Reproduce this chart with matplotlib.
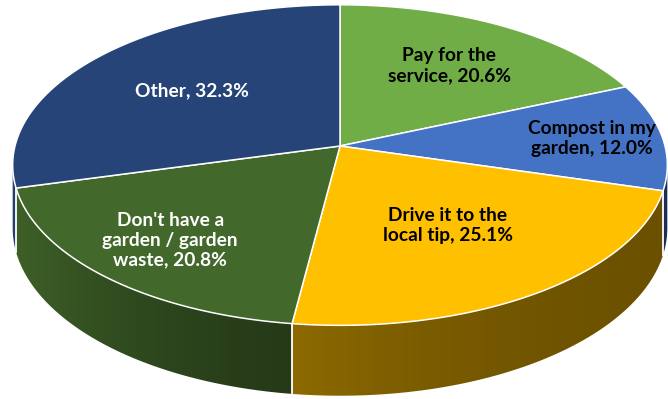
import numpy as np
import matplotlib.pyplot as plt
from matplotlib.patches import Polygon
from matplotlib.colors import to_rgb

# survey answers, clockwise from 12 o'clock
categories = ["Pay for the\nservice", "Compost in my\ngarden", "Drive it to the\nlocal tip",
              "Don't have a\ngarden / garden\nwaste", "Other"]
values = [20.6, 12.0, 25.1, 20.8, 32.3]

colors = ["#70AD47", "#4472C4", "#FFC000", "#43682B", "#264478"]
text_colors = ["black", "black", "black", "white", "white"]
label_r = [0.65, 0.78, 0.57, 0.74, 0.6]

W, H = 668, 399
CX, CY = 340, 146        # where the slices meet
RX, RY = 325, 158        # radius of the top face on screen
P = 0.119                # perspective: far side shrinks, near side grows
THICK = 62               # pie height


def proj(theta, r=1.0, drop=0.0):
    t = np.radians(theta)
    u = r * np.cos(t)
    v = r * np.sin(t)
    s = 1.0 / (1.0 + P * v)
    return CX + RX * u * s, CY - RY * v * s + drop * s


def shade(x):
    # rim lighting: bright on the left, dark on the right
    t = (x - 12) / (668 - 12)
    return 0.38 + 0.55 * np.exp(-2.7 * t)


fig = plt.figure(figsize=(W / 100, H / 100), dpi=100)
ax = fig.add_axes([0, 0, 1, 1])
ax.set_xlim(0, W)
ax.set_ylim(H, 0)
ax.axis("off")

vals = np.array(values)
spans = vals / vals.sum() * 360
ends = 90 - np.cumsum(spans)
starts = ends + spans

# visible part of the rim lies between the two silhouette points
vis_lo = -180 + np.degrees(np.arcsin(P))
vis_hi = -np.degrees(np.arcsin(P))

xs = np.arange(W)
for a0, a1, c in zip(starts, ends, colors):
    lo, hi = max(a1, vis_lo), min(a0, vis_hi)
    if hi <= lo:
        continue
    th = np.linspace(hi, lo, 120)
    tx, ty = proj(th)
    bx, by = proj(th[::-1], drop=THICK)
    poly = Polygon(np.column_stack([np.r_[tx, bx], np.r_[ty, by]]),
                   closed=True, facecolor="none", edgecolor="none")
    ax.add_patch(poly)
    grad = np.array(to_rgb(c))[None, None, :] * shade(xs)[None, :, None]
    im = ax.imshow(grad, extent=(0, W, H, 0), aspect="auto", zorder=1,
                   interpolation="bilinear")
    im.set_clip_path(poly)

# white seams on the rim where slices meet
for a in ends[:-1]:
    if vis_lo < a < vis_hi:
        x0, y0 = proj(a)
        x1, y1 = proj(a, drop=THICK)
        ax.plot([x0, x1], [y0, y1], color="white", lw=1.3, zorder=2)

# top face
for a0, a1, c in zip(starts, ends, colors):
    th = np.linspace(a0, a1, 200)
    px, py = proj(th)
    pts = np.column_stack([np.r_[CX, px], np.r_[CY, py]])
    ax.add_patch(Polygon(pts, closed=True, facecolor=c, edgecolor="white",
                         lw=1.1, joinstyle="round", zorder=3))

for cat, v, a0, a1, tc, r in zip(categories, values, starts, ends, text_colors, label_r):
    lx, ly = proj((a0 + a1) / 2, r=r)
    ax.text(lx, ly, f"{cat}, {v:.1f}%", ha="center", va="center",
            multialignment="center", color=tc, fontsize=13.8,
            fontweight="bold", family="Lato", linespacing=1.2, zorder=4)

fig.savefig("out.png", dpi=100)
